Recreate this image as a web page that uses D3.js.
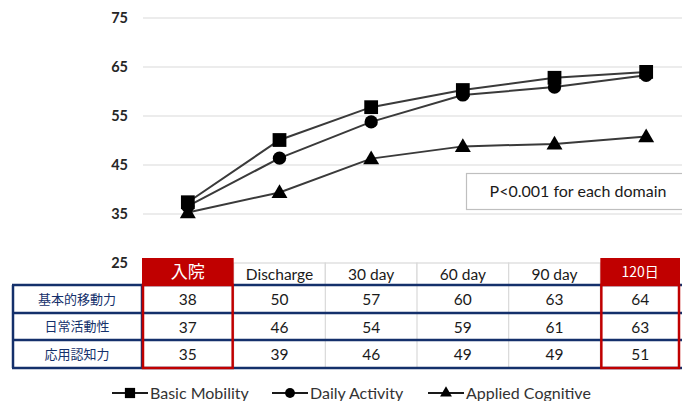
<!DOCTYPE html>
<html><head><meta charset="utf-8">
<script src="https://cdn.jsdelivr.net/npm/d3@7"></script>
<style>
body{margin:0;background:#fff;}
svg{display:block;font-family:Lato,"Open Sans",sans-serif;}
</style></head>
<body><svg id="c" width="682" height="401"></svg>
<script>
const categories = ["入院","Discharge","30 day","60 day","90 day","120日"];
const highlighted = ["入院","120日"];
const seriesNames = ["Basic Mobility","Daily Activity","Applied Cognitive"];
const rowLabels = ["基本的移動力","日常活動性","応用認知力"];
// plotted values
const basicMobility = [37.4, 50.1, 56.8, 60.3, 62.8, 64.0];
const dailyActivity = [36.6, 46.4, 53.8, 59.3, 60.9, 63.3];
const appliedCognitive = [35.3, 39.4, 46.3, 48.8, 49.3, 50.8];
// table values
const tableBasic = [38, 50, 57, 60, 63, 64];
const tableDaily = [37, 46, 54, 59, 61, 63];
const tableCognitive = [35, 39, 46, 49, 49, 51];
const yTicks = [25, 35, 45, 55, 65, 75];
const note = "P<0.001 for each domain";

const svg = d3.select("#c");
const x = d3.scaleBand().domain(categories).range([142, 692]);
const y = d3.scaleLinear().domain([25, 75]).range([263, 18]);
const W = 682;

// gridlines
svg.append("g").selectAll("line").data(yTicks.filter(t => t > 25)).join("line")
  .attr("x1", 143).attr("x2", W).attr("y1", d => y(d)).attr("y2", d => y(d))
  .attr("stroke", "#d9d9d9").attr("stroke-width", 1.2);
svg.append("g").selectAll("text").data(yTicks).join("text")
  .attr("x", 128).attr("y", d => y(d)).attr("dy", "0.35em")
  .attr("text-anchor", "end").attr("font-size", 14.5).attr("font-weight", 700)
  .attr("fill", "#262626").text(d => d);

// note box
svg.append("rect").attr("x", 466.5).attr("y", 173.5).attr("width", 224).attr("height", 36)
  .attr("fill", "#fff").attr("stroke", "#bfbfbf").attr("stroke-width", 1.2);
svg.append("text").attr("x", 578).attr("y", 191.5).attr("dy", "0.35em")
  .attr("text-anchor", "middle").attr("font-size", 16).attr("fill", "#1a1a1a").text(note);

// lines
const series = [
  {name: seriesNames[0], vals: basicMobility, sym: d3.symbolSquare, size: 190},
  {name: seriesNames[1], vals: dailyActivity, sym: d3.symbolCircle, size: 140},
  {name: seriesNames[2], vals: appliedCognitive, sym: d3.symbolTriangle, size: 110}
];
const cx = c => x(c) + x.bandwidth() / 2;
const line = d3.line().x((d, i) => cx(categories[i])).y(d => y(d));
series.forEach(s => {
  svg.append("path").attr("d", line(s.vals)).attr("fill", "none")
    .attr("stroke", "#3a3a3a").attr("stroke-width", 2);
});
[...series].reverse().forEach(s => {
  svg.append("g").selectAll("path").data(s.vals).join("path")
    .attr("d", d3.symbol(s.sym, s.size))
    .attr("transform", (d, i) => `translate(${cx(categories[i])},${y(d) + (s.sym === d3.symbolTriangle ? 1 : 0)})`)
    .attr("fill", "#000");
});

// table
const rowTops = [285, 313, 340, 368];
const navy = "#14306b";
const tbl = svg.append("g");
categories.forEach(c => {
  if (!highlighted.includes(c)) {
    tbl.append("rect").attr("x", x(c)).attr("y", 263).attr("width", x.bandwidth()).attr("height", 22)
      .attr("fill", "#fff").attr("stroke", "#d9d9d9").attr("stroke-width", 1.2);
  }
});
categories.forEach(c => {
  tbl.append("line").attr("x1", x(c)).attr("x2", x(c)).attr("y1", 285).attr("y2", 368)
    .attr("stroke", "#d9d9d9").attr("stroke-width", 1.2);
});
rowTops.forEach(t => {
  tbl.append("line").attr("x1", 12).attr("x2", W).attr("y1", t).attr("y2", t)
    .attr("stroke", navy).attr("stroke-width", 2.5);
});
[13, 142].forEach(xx => {
  tbl.append("line").attr("x1", xx).attr("x2", xx).attr("y1", 285).attr("y2", 368)
    .attr("stroke", navy).attr("stroke-width", 2.5);
});
categories.forEach(c => {
  const hl = highlighted.includes(c);
  const w = Math.min(x.bandwidth(), 680 - x(c));
  if (hl) {
    tbl.append("rect").attr("x", x(c)).attr("y", 258).attr("width", w).attr("height", 27)
      .attr("fill", "#c00000");
  }
  tbl.append("text").attr("x", x(c) + w / 2).attr("y", hl ? 272 : 275).attr("dy", "0.35em")
    .attr("text-anchor", "middle")
    .attr("font-size", hl ? (c === "入院" ? 17 : 14) : 15.5)
    .attr("font-family", hl ? "'Noto Sans CJK JP',sans-serif" : null)
    .attr("fill", hl ? "#fff" : "#1a1a1a").text(c);
});
const tableRows = [tableBasic, tableDaily, tableCognitive];
rowLabels.forEach((lab, r) => {
  const mid = (rowTops[r] + rowTops[r + 1]) / 2;
  tbl.append("text").attr("x", 77).attr("y", mid).attr("dy", "0.35em").attr("text-anchor", "middle")
    .attr("font-family", "'Noto Sans CJK JP',sans-serif").attr("font-size", 13).attr("fill", navy).text(lab);
  tableRows[r].forEach((v, i) => {
    const c = categories[i];
    const w = Math.min(x.bandwidth(), 680 - x(c));
    tbl.append("text").attr("x", x(c) + w / 2).attr("y", mid + 1).attr("dy", "0.35em")
      .attr("text-anchor", "middle").attr("font-size", 15.5).attr("fill", "#1a1a1a").text(v);
  });
});
highlighted.forEach(c => {
  const w = Math.min(x.bandwidth(), 680 - x(c));
  tbl.append("rect").attr("x", x(c) + 1).attr("y", 285).attr("width", w - 2).attr("height", 83)
    .attr("fill", "none").attr("stroke", "#c00000").attr("stroke-width", 2.5);
});

// legend
const legX = [112, 272, 428];
const lg = svg.append("g");
series.forEach((s, i) => {
  const g = lg.append("g").attr("transform", `translate(${legX[i]},393)`);
  g.append("line").attr("x1", 0).attr("x2", 36).attr("stroke", "#1a1a1a").attr("stroke-width", 2);
  g.append("path").attr("d", d3.symbol(s.sym, s.size * 0.55)).attr("transform", "translate(18,0)").attr("fill", "#000");
  g.append("text").attr("x", 38).attr("dy", "0.35em").attr("font-size", 16).attr("fill", "#333").text(s.name);
});
</script></body></html>
